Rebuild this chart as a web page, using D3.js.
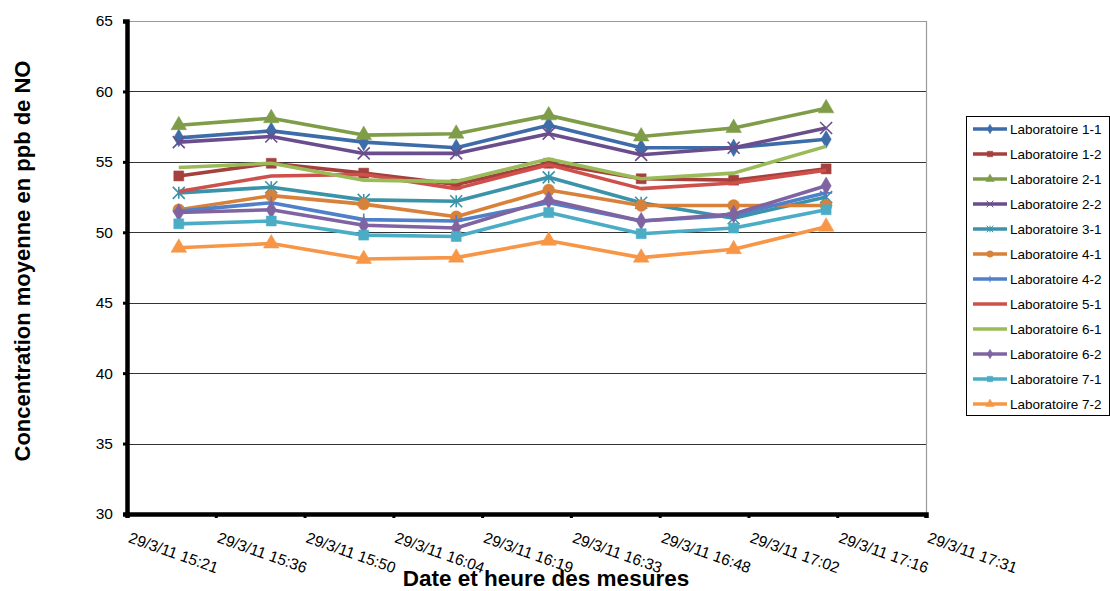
<!DOCTYPE html>
<html><head><meta charset="utf-8">
<script src="https://cdn.jsdelivr.net/npm/d3@7"></script>
<style>body{margin:0;background:#fff;} svg{display:block;font-family:"Liberation Sans",Arial,sans-serif;}</style>
</head><body>
<svg id="c" width="1110" height="591"></svg>
<script>
// ---- data ----
const times = ["15:30","15:45","16:00","16:15","16:30","16:45","17:00","17:15"];
const seriesNames = ["Laboratoire 1-1","Laboratoire 1-2","Laboratoire 2-1","Laboratoire 2-2","Laboratoire 3-1","Laboratoire 4-1","Laboratoire 4-2","Laboratoire 5-1","Laboratoire 6-1","Laboratoire 6-2","Laboratoire 7-1","Laboratoire 7-2"];
const lab11 = [56.7, 57.2, 56.4, 56.0, 57.6, 56.0, 56.0, 56.6];
const lab12 = [54.0, 54.9, 54.2, 53.4, 54.9, 53.8, 53.7, 54.5];
const lab21 = [57.6, 58.1, 56.9, 57.0, 58.3, 56.8, 57.4, 58.8];
const lab22 = [56.4, 56.8, 55.6, 55.6, 57.0, 55.5, 56.0, 57.4];
const lab31 = [52.8, 53.2, 52.3, 52.2, 53.9, 52.1, 51.0, 52.5];
const lab41 = [51.6, 52.6, 52.0, 51.1, 53.0, 51.9, 51.9, 51.9];
const lab42 = [51.5, 52.1, 50.9, 50.8, 52.1, 50.8, 51.2, 52.8];
const lab51 = [52.9, 54.0, 54.1, 53.1, 54.8, 53.1, 53.5, 54.4];
const lab61 = [54.6, 54.9, 53.7, 53.6, 55.2, 53.8, 54.2, 56.1];
const lab62 = [51.4, 51.6, 50.5, 50.3, 52.3, 50.8, 51.3, 53.3];
const lab71 = [50.6, 50.8, 49.8, 49.7, 51.4, 49.9, 50.3, 51.6];
const lab72 = [48.9, 49.2, 48.1, 48.2, 49.4, 48.2, 48.8, 50.4];
const xTickLabels = ["29/3/11 15:21","29/3/11 15:36","29/3/11 15:50","29/3/11 16:04","29/3/11 16:19","29/3/11 16:33","29/3/11 16:48","29/3/11 17:02","29/3/11 17:16","29/3/11 17:31"];
const xTickDays = [0.64,0.65,0.66,0.67,0.68,0.69,0.70,0.71,0.72,0.73];
const yTicks = [30,35,40,45,50,55,60,65];

const seriesValues = [lab11,lab12,lab21,lab22,lab31,lab41,lab42,lab51,lab61,lab62,lab71,lab72];
const colors = ["#3D6CA9","#A5403C","#7F9C48","#6A4D8D","#3A93A8","#D7813A","#4F80C8","#CF4F4B","#9BBB59","#8064A2","#4BACC6","#F79646"];
const markers = ["diamond","square","triangle","x","asterisk","circle","plus","none","none","diamond","square","triangle"];

// ---- layout ----
const svg = d3.select("#c");
const toMin = t => { const [h,m] = t.split(":").map(Number); return h*60+m; };
const x = d3.scaleLinear().domain([0.64*1440, 0.73*1440]).range([127, 926]);
const y = d3.scaleLinear().domain([30,65]).range([514, 21]);

// gridlines
svg.append("g").selectAll("line").data(yTicks.filter(v=>v>30)).join("line")
  .attr("x1", x.range()[0]).attr("x2", x.range()[1])
  .attr("y1", d=>Math.round(y(d))+0.5).attr("y2", d=>Math.round(y(d))+0.5)
  .attr("stroke", d=> d===65 ? "#999" : "#333").attr("stroke-width",1.2);
// right border
svg.append("line").attr("x1",926.5).attr("x2",926.5).attr("y1",y(65)).attr("y2",y(30))
  .attr("stroke","#999").attr("stroke-width",1.2);

// y axis
const yAxis = d3.axisLeft(y).tickValues(yTicks).tickSize(4).tickPadding(10).tickFormat(d3.format("d"));
const gy = svg.append("g").attr("transform","translate(127,0)").call(yAxis);
gy.select(".domain").attr("stroke","#000").attr("stroke-width",4.5);
gy.selectAll(".tick line").attr("stroke","#000").attr("stroke-width",3);
gy.selectAll(".tick text").attr("font-size",15.5).attr("fill","#000").attr("font-family","Liberation Sans, Arial, sans-serif");

// x axis
const xAxis = d3.axisBottom(x).tickValues(xTickDays.map(d=>d*1440)).tickSize(4).tickFormat((d,i)=>xTickLabels[i]);
const gx = svg.append("g").attr("transform","translate(0,514)").call(xAxis);
gx.select(".domain").attr("stroke","#000").attr("stroke-width",4.5);
gx.selectAll(".tick line").attr("stroke","#000").attr("stroke-width",3);
gx.selectAll(".tick text").attr("font-size",15.5).attr("fill","#000")
  .attr("font-family","Liberation Sans, Arial, sans-serif")
  .attr("text-anchor","start").attr("dy",null).attr("y",0)
  .attr("transform","translate(0,28) rotate(19.5)");

// marker generator
function markerPath(type, s) {
  switch(type){
    case "diamond": return d3.symbol(d3.symbolDiamond, 90*s*s)();
    case "square": return d3.symbol(d3.symbolSquare, 100*s*s)();
    case "triangle": return d3.symbol(d3.symbolTriangle, 105*s*s)();
    case "circle": return d3.symbol(d3.symbolCircle, 110*s*s)();
    case "x": { const r=6*s; return `M${-r},${-r}L${r},${r}M${-r},${r}L${r},${-r}`; }
    case "asterisk": { const r=6*s; return `M${-r},${-r}L${r},${r}M${-r},${r}L${r},${-r}M0,${-r}L0,${r}`; }
    case "plus": { const r=6*s; return `M${-r},0L${r},0M0,${-r}L0,${r}`; }
  }
  return null;
}
const strokeMarkers = new Set(["x","asterisk","plus"]);

const line = d3.line().x((d,i)=>x(toMin(times[i]))).y(d=>y(d));
const gs = svg.append("g");
seriesValues.forEach((vals, si) => {
  const g = gs.append("g");
  g.append("path").datum(vals).attr("d", line).attr("fill","none")
    .attr("stroke", colors[si]).attr("stroke-width",3.6).attr("stroke-linejoin","round");
  const mk = markers[si];
  if (mk !== "none") {
    g.selectAll("path.m").data(vals).join("path").attr("class","m")
      .attr("transform",(d,i)=>`translate(${x(toMin(times[i]))},${y(d)})`)
      .attr("d", markerPath(mk,1))
      .attr("fill", strokeMarkers.has(mk) ? "none" : colors[si])
      .attr("stroke", colors[si]).attr("stroke-width", strokeMarkers.has(mk) ? 1.6 : 0.5);
  }
});

// legend
const lg = svg.append("g").attr("transform","translate(966,116)");
lg.append("rect").attr("x",0.5).attr("y",0.5).attr("width",143).attr("height",299)
  .attr("fill","#fff").attr("stroke","#000").attr("stroke-width",1);
seriesNames.forEach((n, i) => {
  const yy = 13 + i*25;
  const row = lg.append("g").attr("transform",`translate(0,${yy})`);
  row.append("line").attr("x1",7).attr("x2",41).attr("y1",0).attr("y2",0)
    .attr("stroke",colors[i]).attr("stroke-width",3.4);
  const mk = markers[i];
  if (mk !== "none") {
    row.append("path").attr("transform","translate(24,0)").attr("d", markerPath(mk,0.55))
      .attr("fill", strokeMarkers.has(mk) ? "none" : colors[i])
      .attr("stroke", colors[i]).attr("stroke-width", strokeMarkers.has(mk)?1:0.5);
  }
  row.append("text").attr("x",44).attr("y",5).attr("font-size",13.5).attr("fill","#000").text(n);
});

// axis titles
svg.append("text").attr("transform","translate(30,261) rotate(-90)").attr("text-anchor","middle")
  .attr("font-size",22).attr("font-weight","bold").attr("fill","#000").text("Concentration moyenne en ppb de NO");
svg.append("text").attr("x",546).attr("y",586).attr("text-anchor","middle")
  .attr("font-size",22.5).attr("font-weight","bold").attr("fill","#000").text("Date et heure des mesures");
</script>
</body></html>
